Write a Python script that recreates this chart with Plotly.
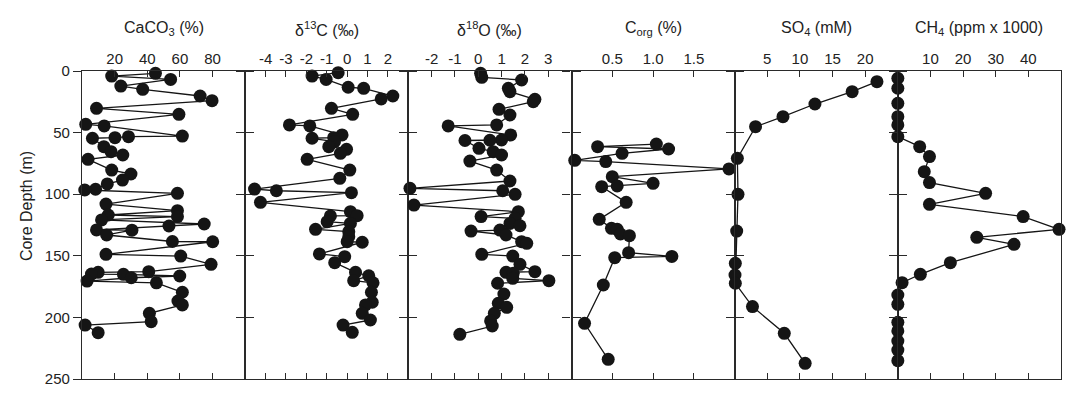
import plotly.graph_objects as go

# ---------------- data (depth in m, value) ----------------
caco3_depth = [1.9, 4.1, 6.8, 12.2, 14.9, 20.3, 24.1, 30.3, 35.2, 43.3, 44.6, 52.8, 53.3, 54.1, 54.6,
               61.4, 65.5, 68.2, 71.7, 80.4, 83.6, 88.5, 91.7, 96.0, 96.6, 99.3, 108.0, 113.4, 116.9,
               118.2, 120.9, 124.2, 125.8, 129.0, 129.2, 133.1, 138.4, 138.6, 148.8, 150.2, 156.9,
               162.9, 163.4, 164.8, 165.0, 166.4, 167.8, 170.5, 171.9, 179.6, 186.7, 189.9, 196.7,
               203.5, 206.2, 212.4]
caco3_pct = [45.0, 18.2, 54.3, 23.8, 37.2, 72.4, 79.7, 8.9, 59.4, 2.3, 13.6, 61.5, 28.5, 20.2, 6.4,
             13.4, 17.8, 25.0, 3.7, 18.2, 30.0, 24.8, 15.5, 8.3, 1.7, 58.5, 14.7, 58.5, 16.1,
             58.5, 12.0, 74.9, 53.3, 8.9, 30.6, 15.1, 55.4, 80.1, 14.7, 60.5, 79.1,
             40.9, 9.9, 5.8, 25.4, 59.9, 30.2, 3.1, 45.6, 61.5, 58.8, 61.5, 41.3,
             42.4, 1.9, 9.9]

d13c_depth = [1.4, 4.1, 6.8, 13.2, 14.1, 20.3, 22.7, 30.3, 35.2, 43.8, 44.6, 51.9, 54.1, 54.6, 57.4,
              61.4, 63.6, 66.8, 71.7, 80.4, 87.1, 95.8, 97.2, 98.8, 106.6, 114.2, 117.4, 117.6,
              122.3, 123.7, 128.5, 130.4, 134.5, 138.5, 139.0, 148.5, 150.7, 155.6, 163.4, 166.2,
              170.2, 171.9, 179.6, 187.7, 189.9, 196.7, 202.1, 206.2, 212.1]
d13c_val = [-0.44, -1.72, -1.03, 0.05, 0.81, 2.24, 1.67, -0.77, 0.27, -2.83, -1.83, -0.25, -0.66, -1.72, -0.62,
            -0.90, -0.03, -0.33, -1.96, 0.13, -0.36, -4.54, -3.47, 0.21, -4.25, 0.16, 0.49, -0.82,
            -0.98, 0.16, -1.55, 0.08, 0.08, 0.0, 0.74, -1.36, -0.12, -0.61, 0.41, 1.06,
            0.32, 1.27, 1.19, 1.23, 0.90, 0.74, 1.14, -0.20, 0.25]

d18o_depth = [1.9, 5.1, 7.3, 14.1, 16.8, 23.0, 24.9, 31.1, 35.7, 43.8, 44.6, 51.9, 56.0, 56.2, 56.4,
              62.8, 65.5, 68.2, 73.1, 80.4, 89.3, 95.2, 97.2, 100.1, 108.8, 114.2, 118.2, 119.6,
              123.7, 125.6, 129.1, 129.9, 133.1, 138.5, 139.9, 148.8, 150.2, 156.9, 162.9, 163.4,
              164.2, 168.3, 170.2, 172.3, 181.0, 188.5, 191.8, 196.7, 202.9, 207.0, 213.7]
d18o_val = [0.10, 0.15, 1.86, 1.29, 1.36, 2.43, 2.36, 0.89, 1.36, 0.79, -1.29, 1.39, 1.00, 0.50, -0.57,
            0.03, 0.64, 1.00, -0.36, 0.79, 1.36, -2.93, 1.05, 1.58, -2.76, 1.72, 0.12, 1.58,
            1.36, 1.79, 0.93, -0.31, 1.19, 1.86, 2.08, 0.15, 1.48, 1.79, 2.43, 1.19,
            1.50, 1.48, 3.03, 0.83, 1.10, 0.86, 1.22, 0.69, 0.53, 0.60, -0.79]

corg_depth = [59.3, 61.4, 63.3, 66.8, 72.5, 73.5, 79.5, 85.8, 91.2, 93.3, 93.9, 106.6, 120.4, 127.7,
              128.5, 132.3, 133.7, 147.5, 150.5, 151.5, 173.7, 204.8, 234.0]
corg_pct = [1.04, 0.32, 1.19, 0.62, 0.04, 0.42, 1.93, 0.50, 1.00, 0.56, 0.37, 0.67, 0.34, 0.49,
            0.56, 0.60, 0.71, 0.70, 1.23, 0.53, 0.39, 0.16, 0.45]

so4_depth = [8.7, 16.8, 26.8, 37.1, 45.2, 70.9, 100.1, 129.9, 156.1, 165.6, 172.3, 191.2, 212.9, 237.3]
so4_mm = [21.8, 18.0, 12.3, 7.4, 3.2, 0.41, 0.51, 0.31, 0.1, 0.05, 0.1, 2.73, 7.6, 10.8]

ch4_depth = [5.9, 14.0, 26.2, 37.1, 43.8, 53.3, 61.4, 69.5, 81.7, 90.6, 99.3, 108.2, 118.2, 128.5,
             135.0, 140.7, 155.6, 165.0, 171.8, 181.8, 189.4, 204.0, 211.0, 219.2, 226.5, 235.1]
ch4_ppm_k = [0, 0, 0, 0, 0, 0, 6.7, 9.7, 8.1, 9.7, 26.9, 9.7, 38.4, 49.4,
             24.2, 35.6, 16.1, 6.9, 1.3, 0, 0, 0, 0, 0, 0, 0]

titles = ["CaCO<sub>3</sub> (%)", "δ<sup>13</sup>C (‰)", "δ<sup>18</sup>O (‰)",
          "C<sub>org</sub> (%)", "SO<sub>4</sub> (mM)", "CH<sub>4</sub> (ppm x 1000)"]
x_ranges = [[0, 100], [-5, 3], [-3, 4], [0, 2], [0, 25], [0, 50]]
x_tickvals = [[20, 40, 60, 80], [-4, -3, -2, -1, 0, 1, 2], [-2, -1, 0, 1, 2, 3],
              [0.5, 1.0, 1.5], [5, 10, 15, 20], [10, 20, 30, 40]]
x_ticktext = [["20", "40", "60", "80"], ["-4", "-3", "-2", "-1", "0", "1", "2"],
              ["-2", "-1", "0", "1", "2", "3"], ["0.5", "1.0", "1.5"],
              ["5", "10", "15", "20"], ["10", "20", "30", "40"]]
depth_ticks = [0, 50, 100, 150, 200, 250]
depth_range = [250, 0]

series = [(caco3_pct, caco3_depth), (d13c_val, d13c_depth), (d18o_val, d18o_depth),
          (corg_pct, corg_depth), (so4_mm, so4_depth), (ch4_ppm_k, ch4_depth)]

FONT = "Liberation Sans, Arial, Helvetica, sans-serif"
AX = "#2a2a2a"
MK = "#151515"

fig = go.Figure()
layout = {}
n_p = len(series)
for i, (xv, yv) in enumerate(series):
    n = i + 1
    sfx = "" if n == 1 else str(n)
    fig.add_trace(go.Scatter(
        x=xv, y=yv, xaxis="x" + sfx, yaxis="y" + sfx, mode="lines+markers",
        line=dict(color=MK, width=1.3), marker=dict(size=13, color=MK),
        cliponaxis=False, showlegend=False, hoverinfo="x+y"))
    layout["xaxis" + sfx] = dict(
        domain=[i / n_p, (i + 1) / n_p], anchor="y" + sfx, side="top",
        range=x_ranges[i], tickvals=x_tickvals[i], ticktext=x_ticktext[i],
        ticks="inside", ticklen=6, tickcolor=AX, tickwidth=1.2,
        mirror="ticks", showline=True, linecolor=AX, linewidth=1.3,
        showgrid=False, zeroline=False, fixedrange=True)
    ycfg = dict(
        anchor="x" + sfx, range=depth_range, tickvals=depth_ticks,
        ticks="outside", ticklen=8, tickcolor=AX, tickwidth=1.2,
        showline=True, linecolor=AX, linewidth=1.3,
        showgrid=False, zeroline=False, fixedrange=True)
    if n == 1:
        ycfg.update(showticklabels=True, mirror="ticks")
    elif n < n_p:
        ycfg.update(showticklabels=False, mirror="ticks")
    else:
        ycfg.update(showticklabels=False, mirror=True)
    layout["yaxis" + sfx] = ycfg
    layout.setdefault("annotations", []).append(dict(
        text=titles[i], xref="paper", yref="paper",
        x=(i + 0.5) / n_p, y=1.137, xanchor="center", yanchor="middle",
        showarrow=False, font=dict(size=16, color="#222", family=FONT)))

# inside ticks on the right edge of the last panel
layout["yaxis7"] = dict(overlaying="y6", side="right", anchor="x6", range=depth_range,
                        tickvals=depth_ticks, ticks="inside", ticklen=8, tickcolor=AX,
                        tickwidth=1.2, showticklabels=False, showline=False,
                        showgrid=False, zeroline=False, fixedrange=True)

layout["annotations"].append(dict(
    text="Core Depth (m)", xref="paper", yref="paper", x=-0.056, y=0.562,
    xanchor="center", yanchor="middle", textangle=-90, showarrow=False,
    font=dict(size=16, color="#222", family=FONT)))

# the page body adds an 8px offset, so margins are reduced by 8px on left/top
fig.update_layout(
    width=1080, height=395, margin=dict(l=74, r=27, t=63, b=24),
    paper_bgcolor="white", plot_bgcolor="white",
    font=dict(family=FONT, size=15, color="#222"),
    **layout)

fig.write_html("out.html")
